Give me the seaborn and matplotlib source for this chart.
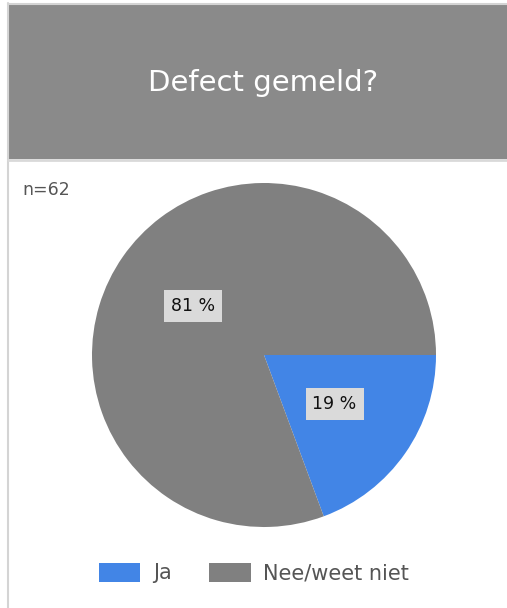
import matplotlib
matplotlib.use("Agg")
import matplotlib.pyplot as plt
from matplotlib.patches import Rectangle, Patch
import seaborn as sns

categories = ["Ja", "Nee/weet niet"]
counts = [12, 50]
colors = ["#4285E6", "#808080"]
title = "Defect gemeld?"
note = "n=62"

sns.set_style("white")
plt.rcParams['font.family'] = ['DejaVu Sans']

W, H = 507, 608
fig = plt.figure(figsize=(W / 100, H / 100), dpi=100)
fig.patch.set_facecolor("white")

# header band and borders
fig.patches.append(Rectangle((8 / W, 1 - 159 / H), 1 - 8 / W, 155 / H,
                             transform=fig.transFigure, facecolor="#8A8A8A",
                             edgecolor="none", zorder=0))
fig.add_artist(plt.Line2D([8 / W, 8 / W], [0, 1 - 3 / H], transform=fig.transFigure,
                          color="#D4D4D4", lw=1.5))
fig.add_artist(plt.Line2D([8 / W, 1], [1 - 3.5 / H, 1 - 3.5 / H], transform=fig.transFigure,
                          color="#D4D4D4", lw=1.5))
fig.add_artist(plt.Line2D([8 / W, 1], [1 - 160 / H, 1 - 160 / H], transform=fig.transFigure,
                          color="#D9D9D9", lw=2))
fig.text(263 / W, 1 - 83 / H, title, color="white", fontsize=21,
         ha="center", va="center")
fig.text(22 / W, 1 - 190 / H, note, color="#555555", fontsize=12.5,
         ha="left", va="center")

cx, cy, r = 264, 355, 172
ax = fig.add_axes([(cx - r) / W, 1 - (cy + r) / H, 2 * r / W, 2 * r / H])
wedges, texts, autotexts = ax.pie(
    counts, colors=colors, startangle=0, counterclock=False,
    autopct=lambda p: f"{p:.0f} %", pctdistance=0.5,
    wedgeprops=dict(linewidth=0),
    textprops=dict(fontsize=12.5, color="#111111"))
for t in autotexts:
    t.set_bbox(dict(facecolor="#DADADA", edgecolor="none", pad=5))
ax.set_xlim(-1, 1)
ax.set_ylim(-1, 1)
ax.set_aspect("equal")
ax.axis("off")

handles = [Patch(facecolor=c, edgecolor="none") for c in colors]
leg = fig.legend(handles, categories, loc="center", bbox_to_anchor=(254 / W, 1 - 573 / H),
                 ncol=2, frameon=False, fontsize=15, handlelength=2.0, handleheight=1.05,
                 handletextpad=0.6, columnspacing=1.8)
for t in leg.get_texts():
    t.set_color("#555555")

fig.savefig("out.png", dpi=100, facecolor="white")
